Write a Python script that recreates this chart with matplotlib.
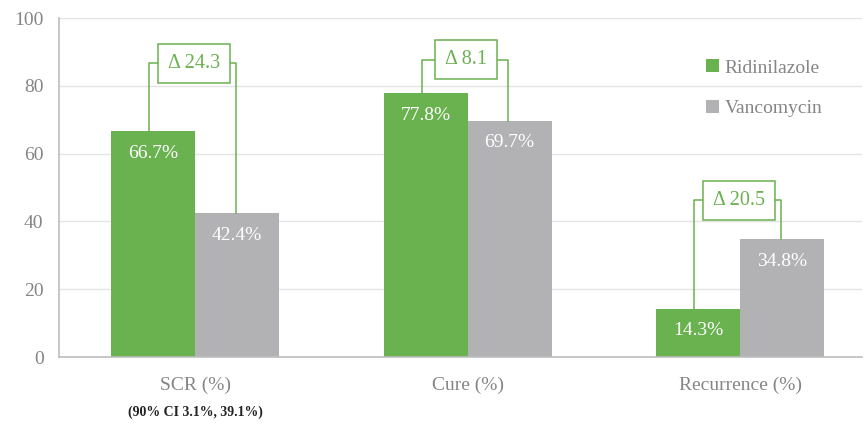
import matplotlib.pyplot as plt
import numpy as np

plt.rcParams['font.family'] = ['Liberation Serif', 'DejaVu Serif']

# data
categories = ['SCR (%)', 'Cure (%)', 'Recurrence (%)']
ridinilazole = [66.7, 77.8, 14.3]
vancomycin = [42.4, 69.7, 34.8]
deltas = ['Δ 24.3', 'Δ 8.1', 'Δ 20.5']
bracket_y = [86.7, 87.8, 46.2]
ci_note = '(90% CI 3.1%, 39.1%)'

green = '#6ab150'
grey = '#b2b2b4'
txt = '#858585'

fig = plt.figure(figsize=(8.65, 4.23), dpi=100)
ax = fig.add_axes([0.068, 0.156, 0.929, 0.801])

x = np.arange(len(categories))
w = 0.308
b1 = ax.bar(x - w / 2, ridinilazole, w, color=green, label='Ridinilazole', zorder=2)
b2 = ax.bar(x + w / 2, vancomycin, w, color=grey, label='Vancomycin', zorder=2)

# labels inside bars
for bars, vals in ((b1, ridinilazole), (b2, vancomycin)):
    for r, v in zip(bars, vals):
        ax.text(r.get_x() + r.get_width() / 2, v - 4.0, f'{v}%', ha='center', va='top',
                color='white', fontsize=14, zorder=3)

# difference brackets
for i in range(len(categories)):
    xg = x[i] - w / 2 - 0.015
    xv = x[i] + w / 2 - 0.005
    by = bracket_y[i]
    ax.plot([xg, xg, xv, xv], [ridinilazole[i], by, by, vancomycin[i]],
            color=green, lw=1.1, zorder=3)
    ax.text(x[i] - 0.005, by, deltas[i], ha='center', va='center', color=green,
            fontsize=14.5, zorder=4,
            bbox=dict(boxstyle='square,pad=0.5', fc='white', ec=green, lw=1.1))

ax.set_ylim(0, 100)
ax.set_xlim(-0.5, 2.448)
ax.set_yticks([0, 20, 40, 60, 80, 100])
ax.set_xticks(x)
ax.set_xticklabels(categories)
ax.tick_params(axis='both', length=0, labelcolor=txt, labelsize=14)
ax.tick_params(axis='x', pad=14)
ax.tick_params(axis='y', pad=11)
ax.grid(axis='y', color='#e4e4e4', lw=1, zorder=0)
ax.set_axisbelow(True)
for s in ('top', 'right'):
    ax.spines[s].set_visible(False)
for s in ('left', 'bottom'):
    ax.spines[s].set_color('#bdbdbd')
    ax.spines[s].set_linewidth(1.2)

ax.text(x[0], -16.3, ci_note, transform=ax.transData, ha='center', va='center',
        fontsize=10, fontweight='bold', color='#222222', clip_on=False)

leg = ax.legend(loc='upper left', bbox_to_anchor=(0.784, 0.93), frameon=False,
                handlelength=0.65, handleheight=0.65, handletextpad=0.3,
                labelspacing=1.2, fontsize=14)
for t in leg.get_texts():
    t.set_color(txt)

fig.savefig('out.png', dpi=100)
